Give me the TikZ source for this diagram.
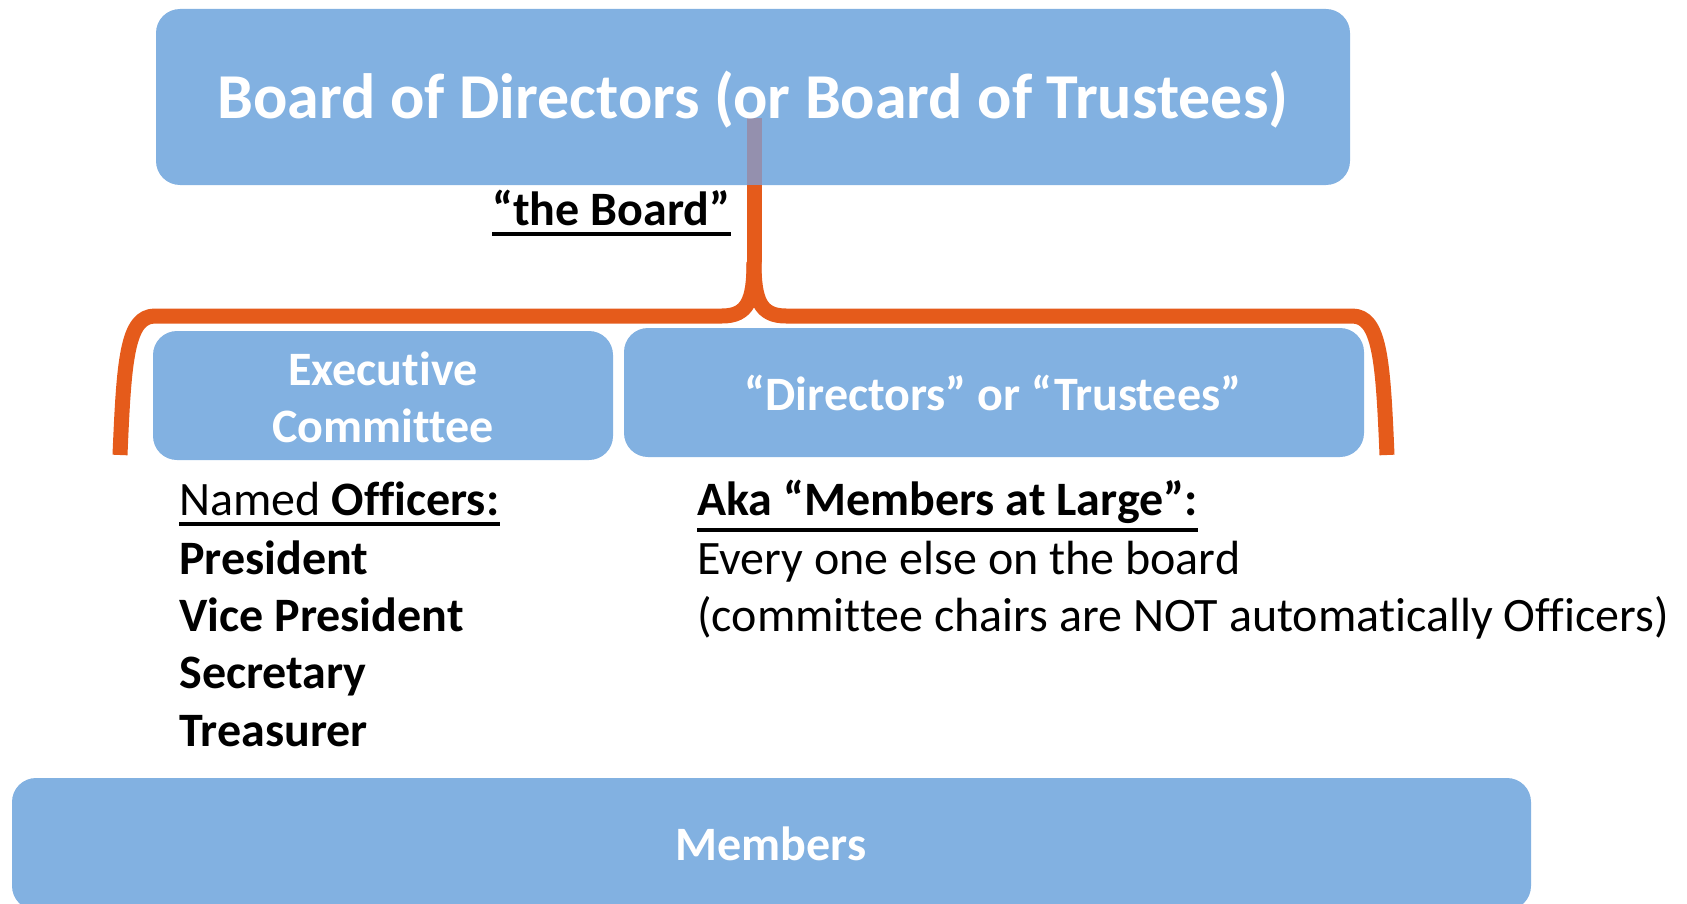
\documentclass[tikz,border=0pt]{standalone}
\usepackage{fontspec}
\setmainfont{Carlito}[Ligatures=NoCommon]
\usetikzlibrary{fit}
\definecolor{boxblue}{HTML}{82B1E1}
\definecolor{brorange}{HTML}{E55B1B}
\definecolor{stemgray}{HTML}{9490AE}
\begin{document}
\begin{tikzpicture}[x=0.5pt,y=-0.5pt,
  bluebox/.style={fill=boxblue, draw=none, rounded corners=12pt, inner sep=0pt},
  boxtext/.style={text=white, font=\fontsize{24}{28}\selectfont\bfseries, inner sep=0pt, anchor=base},
  titletext/.style={text=white, font=\fontsize{32}{38}\selectfont\bfseries, inner sep=0pt, anchor=base},
  bodytext/.style={font=\fontsize{24}{28}\selectfont, inner sep=0pt, anchor=base west},
  boldtext/.style={bodytext, font=\fontsize{24}{28}\selectfont\bfseries},
  brace/.style={draw=brorange, line width=7.5pt, line join=round},
  uline/.style={draw=black, line width=2pt}]
\useasboundingbox (0,0) rectangle (1687,904);
% boxes
\node[bluebox, fit={(156,9)(1350,185)}] (board) {};
\node[bluebox, fit={(153,331)(613,460)}] (exec) {};
\node[bluebox, fit={(624,328)(1364,457)}] (dirs) {};
\node[bluebox, fit={(12,778)(1531,910)}] (members) {};
% brace
\coordinate (stemtop) at (754,118);
\coordinate (stembot) at (754,185);
\coordinate (cusp) at (754,262);
\coordinate (lend) at (120,455);
\coordinate (rend) at (1387,455);
\draw[brace] (lend) .. controls (124,360) and (127,316) .. (155,316) -- (722,316)
   .. controls (748,316) and (754,300) .. (cusp);
\draw[brace] (rend) .. controls (1383,360) and (1380,316) .. (1352,316) -- (786,316)
   .. controls (760,316) and (754,300) .. (cusp);
\draw[brace, line cap=butt] (cusp) -- (stembot);
\draw[draw=stemgray, line width=7.5pt] (stembot) -- (stemtop);
% texts in boxes
\node[titletext] (boardtxt) at (753,119) {Board of Directors (or Board of Trustees)};
\node[boxtext] (exec1) at (383,385) {Executive};
\node[boxtext] (exec2) at (383,442) {Committee};
\node[boxtext] (dirtxt) at (993,410) {“Directors” or “Trustees”};
\node[boxtext] (memtxt) at (771,860) {Members};
% the board
\node[boldtext] (theboard) at (492,225) {“the Board”};
\draw[uline] ([yshift=-4.5pt]theboard.base west) -- ([yshift=-4.5pt]theboard.base east);
% left column
\node[bodytext] (named) at (179,515) {Named \textbf{Officers:}};
\draw[uline] ([yshift=-4.5pt]named.base west) -- ([yshift=-4.5pt]named.base east);
\node[boldtext] (pres) at (179,574) {President};
\node[boldtext] (vp) at (179,631) {Vice President};
\node[boldtext] (sec) at (179,688) {Secretary};
\node[boldtext] (treas) at (179,746) {Treasurer};
% right column
\node[boldtext] (aka) at (697,515) {Aka “Members at Large”:};
\draw[uline] ([yshift=-7.5pt]aka.base west) -- ([yshift=-7.5pt]aka.base east);
\node[bodytext] (every) at (697,574) {Every one else on the board};
\node[bodytext] (chairs) at (697,631) {(committee chairs are NOT automatically Officers)};
\end{tikzpicture}
\end{document}
